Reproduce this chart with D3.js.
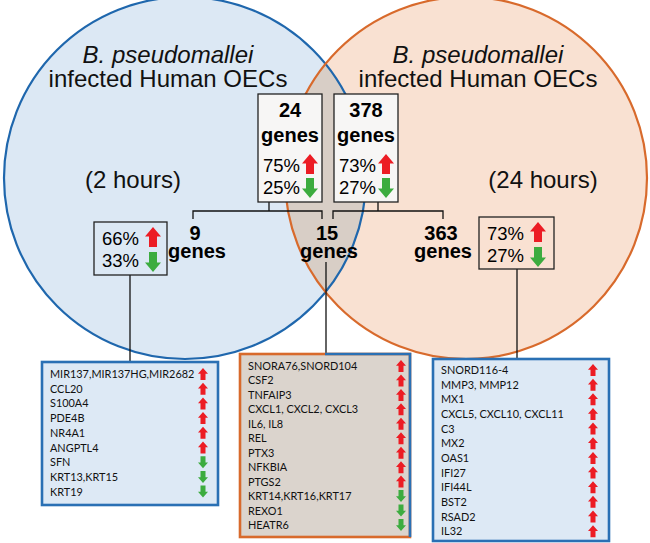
<!DOCTYPE html>
<html><head><meta charset="utf-8">
<script src="https://cdn.jsdelivr.net/npm/d3@7"></script>
<style>body{margin:0;background:#fff}svg{display:block}</style>
</head><body>
<script>
// ---------- data ----------
const setNames = ["B. pseudomallei", "B. pseudomallei"];
const setSubtitles = ["infected Human OECs", "infected Human OECs"];
const setTimes = ["(2 hours)", "(24 hours)"];
const setTotals = [24, 378];
const setUp = ["75%", "73%"];
const setDown = ["25%", "27%"];
const regionCounts = [9, 15, 363];
const regionUp = ["66%", null, "73%"];
const regionDown = ["33%", null, "27%"];
const leftGenes = ["MIR137,MIR137HG,MIR2682","CCL20","S100A4","PDE4B","NR4A1","ANGPTL4","SFN","KRT13,KRT15","KRT19"];
const leftDir = ["up","up","up","up","up","up","down","down","down"];
const midGenes = ["SNORA76,SNORD104","CSF2","TNFAIP3","CXCL1, CXCL2, CXCL3","IL6, IL8","REL","PTX3","NFKBIA","PTGS2","KRT14,KRT16,KRT17","REXO1","HEATR6"];
const midDir = ["up","up","up","up","up","up","up","up","up","down","down","down"];
const rightGenes = ["SNORD116-4","MMP3, MMP12","MX1","CXCL5, CXCL10, CXCL11","C3","MX2","OAS1","IFI27","IFI44L","BST2","RSAD2","IL32"];
const rightDir = ["up","up","up","up","up","up","up","up","up","up","up","up"];

// ---------- styles ----------
const W = 650, H = 543;
const RED = "#ec1c24", GREEN = "#3cac3f";
const svg = d3.select("body").append("svg").attr("width", W).attr("height", H);
const sans = "'Liberation Sans', Arial, sans-serif";
const listFont = "Lato, 'Open Sans', sans-serif";

const cx = d3.scaleLinear().domain([0, 1]).range([185, 466]);
const cy = 178, R = 181;
const fills = ["#dce8f4", "#f9e1d2"];
const strokes = ["#1f67ad", "#d86a2c"];

const defs = svg.append("defs");
defs.append("clipPath").attr("id", "clipA")
  .append("circle").attr("cx", cx(0)).attr("cy", cy).attr("r", R);

svg.selectAll("circle.fill").data([0, 1]).join("circle")
  .attr("cx", d => cx(d)).attr("cy", cy).attr("r", R)
  .attr("fill", d => fills[d]);
svg.append("circle").attr("cx", cx(1)).attr("cy", cy).attr("r", R)
  .attr("clip-path", "url(#clipA)").attr("fill", "#d8cec6");
svg.selectAll("circle.edge").data([0, 1]).join("circle")
  .attr("cx", d => cx(d)).attr("cy", cy).attr("r", R)
  .attr("fill", "none").attr("stroke", d => strokes[d]).attr("stroke-width", 2.2);

// titles
const titleX = [168, 478];
setNames.forEach((n, i) => {
  svg.append("text").attr("x", titleX[i]).attr("y", 63).attr("text-anchor", "middle")
    .attr("font-family", sans).attr("font-size", 24).attr("font-style", "italic").attr("fill", "#111").text(n);
  svg.append("text").attr("x", titleX[i]).attr("y", 87).attr("text-anchor", "middle")
    .attr("font-family", sans).attr("font-size", 24).attr("fill", "#111").text(setSubtitles[i]);
});
const timeX = [133, 543];
setTimes.forEach((t, i) => {
  svg.append("text").attr("x", timeX[i]).attr("y", 188).attr("text-anchor", "middle")
    .attr("font-family", sans).attr("font-size", 24).attr("fill", "#111").text(t);
});

function blockArrow(g, x, top, w, h, dir, color) {
  const hh = h * 0.48, sw = w * 0.5;
  let pts;
  if (dir === "up") {
    pts = [[x, top], [x + w / 2, top + hh], [x + sw / 2, top + hh], [x + sw / 2, top + h],
           [x - sw / 2, top + h], [x - sw / 2, top + hh], [x - w / 2, top + hh]];
  } else {
    const b = top + h;
    pts = [[x, b], [x + w / 2, b - hh], [x + sw / 2, b - hh], [x + sw / 2, top],
           [x - sw / 2, top], [x - sw / 2, b - hh], [x - w / 2, b - hh]];
  }
  g.append("path").attr("d", d3.line()(pts) + "Z").attr("fill", color);
}

// ---------- connectors ----------
const lines = svg.append("g").attr("stroke", "#111").attr("stroke-width", 1.3).attr("fill", "none");
const seg = (pts) => lines.append("path").attr("d", d3.line()(pts));
seg([[269, 202], [269, 211]]);
seg([[193, 219], [193, 211], [322, 211], [322, 219]]);
seg([[378, 202], [378, 211]]);
seg([[333, 219], [333, 211], [443, 211], [443, 219]]);
seg([[130, 275], [130, 362]]);
seg([[326, 262], [326, 354]]);
seg([[517, 269], [517, 359]]);

// ---------- top set boxes ----------
const boxX = [258, 334];
setTotals.forEach((t, i) => {
  const g = svg.append("g");
  const x0 = boxX[i], bw = 64, mid = x0 + bw / 2;
  g.append("rect").attr("x", x0).attr("y", 94).attr("width", bw).attr("height", 108)
    .attr("fill", "#f7f6f5").attr("stroke", "#222").attr("stroke-width", 1.3);
  g.append("text").attr("x", mid).attr("y", 117).attr("text-anchor", "middle")
    .attr("font-family", sans).attr("font-weight", "bold").attr("font-size", 20).text(t);
  g.append("text").attr("x", mid).attr("y", 142).attr("text-anchor", "middle")
    .attr("font-family", sans).attr("font-weight", "bold").attr("font-size", 20).text("genes");
  g.append("text").attr("x", x0 + 5).attr("y", 172).attr("font-family", sans).attr("font-size", 18.5).text(setUp[i]);
  g.append("text").attr("x", x0 + 5).attr("y", 194).attr("font-family", sans).attr("font-size", 18.5).text(setDown[i]);
  blockArrow(g, x0 + 52, 154, 16, 20, "up", RED);
  blockArrow(g, x0 + 52, 178, 16, 20, "down", GREEN);
});

// ---------- region counts ----------
const countX = [195, 327, 441];
regionCounts.forEach((c, i) => {
  svg.append("text").attr("x", countX[i]).attr("y", 240).attr("text-anchor", "middle")
    .attr("font-family", sans).attr("font-weight", "bold").attr("font-size", 20).text(c);
  svg.append("text").attr("x", countX[i] + 2).attr("y", 258).attr("text-anchor", "middle")
    .attr("font-family", sans).attr("font-weight", "bold").attr("font-size", 20).text("genes");
});
const pctBox = [{x: 94, y: 222, w: 73, h: 53}, null, {x: 479, y: 217, w: 75, h: 52}];
regionUp.forEach((u, i) => {
  if (!u) return;
  const b = pctBox[i], g = svg.append("g");
  g.append("rect").attr("x", b.x).attr("y", b.y).attr("width", b.w).attr("height", b.h)
    .attr("fill", "none").attr("stroke", "#222").attr("stroke-width", 1.3);
  g.append("text").attr("x", b.x + 8).attr("y", b.y + 23).attr("font-family", sans).attr("font-size", 18.5).text(u);
  g.append("text").attr("x", b.x + 8).attr("y", b.y + 45).attr("font-family", sans).attr("font-size", 18.5).text(regionDown[i]);
  blockArrow(g, b.x + 59, b.y + 5, 16, 20, "up", RED);
  blockArrow(g, b.x + 59, b.y + 30, 16, 20, "down", GREEN);
});

// ---------- gene list boxes ----------
function geneBox(genes, dirs, b) {
  const g = svg.append("g");
  g.append("rect").attr("x", b.x).attr("y", b.y).attr("width", b.w).attr("height", b.h)
    .attr("fill", b.fill).attr("stroke", b.stroke).attr("stroke-width", 2.6);
  if (b.stroke2) {
    g.append("path").attr("d", d3.line()([[b.x + b.w * 0.5, b.y], [b.x + b.w, b.y], [b.x + b.w, b.y + b.h]]))
      .attr("fill", "none").attr("stroke", b.stroke2).attr("stroke-width", 2.6);
  }
  const y = d3.scaleLinear().domain([0, 1]).range([b.y + b.first, b.y + b.first + b.step]);
  g.selectAll("text").data(genes).join("text")
    .attr("x", b.x + b.pad).attr("y", (d, i) => y(i))
    .attr("font-family", listFont).attr("font-size", 10.9).attr("fill", "#111").text(d => d);
  dirs.forEach((d, i) => blockArrow(g, b.ax, y(i) - 10, 10, 12, d, d === "up" ? RED : GREEN));
}
geneBox(leftGenes, leftDir, {x: 42, y: 362, w: 176, h: 143, first: 16, step: 14.7, pad: 8, ax: 203, fill: "#dde9f5", stroke: "#2a70b4"});
geneBox(midGenes, midDir, {x: 240, y: 354, w: 170, h: 183, first: 16, step: 14.45, pad: 8, ax: 401, fill: "#dbd4cd", stroke: "#d86a2c", stroke2: "#2a70b4"});
geneBox(rightGenes, rightDir, {x: 433, y: 359, w: 176, h: 182, first: 15, step: 14.65, pad: 8, ax: 593, fill: "#dde9f5", stroke: "#2a70b4"});
</script>
</body></html>
